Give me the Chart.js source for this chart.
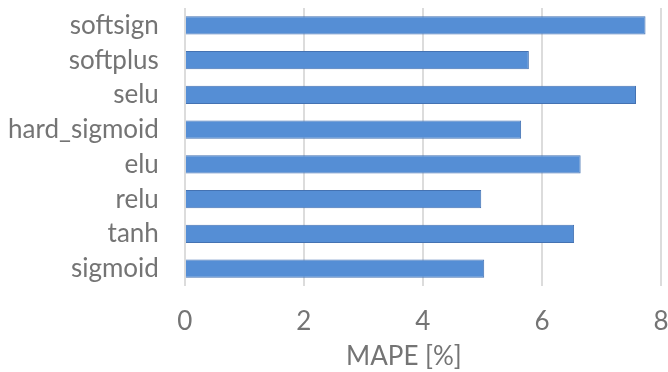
<!DOCTYPE html>
<html>
<head>
<meta charset="utf-8">
<script src="https://cdn.jsdelivr.net/npm/chart.js@4/dist/chart.umd.min.js"></script>
<style>
  html, body { margin: 0; padding: 0; background: #fff; }
  #wrap { width: 668px; height: 372px; }
</style>
</head>
<body>
<div id="wrap"><canvas id="mapeChart"></canvas></div>
<script>
// activation functions, top to bottom
const activations = ['softsign', 'softplus', 'selu', 'hard_sigmoid', 'elu', 'relu', 'tanh', 'sigmoid'];
// mean absolute percentage error per activation
const mapeValues = [7.74, 5.78, 7.58, 5.65, 6.65, 4.98, 6.54, 5.03];
const xMin = 0;
const xMax = 8;
const xStep = 2;
const xTitle = 'MAPE [%]';

const labelFont = { family: 'Lato, "Open Sans", sans-serif', size: 26, lineHeight: 1 };
const grey = '#747474';
const xTickPad = 23;
const yTickPad = 26;
const titleBand = 35;

// Chart.js reserves tick padding on both sides of the labels and at the axis ends;
// keep only the gap between the labels and the plot
function trimX(scale) {
    scale.paddingLeft = 0;
    scale.paddingRight = 0;
    scale.height -= xTickPad;
}
function trimY(scale) {
    scale.paddingTop = 0;
    scale.paddingBottom = 0;
    scale.width -= yTickPad;
}

// axis title sits a little left of the plot centre, in the band kept free below the ticks
const xTitlePlugin = {
    id: 'xTitle',
    afterDraw(chart) {
        const x = chart.scales.x;
        const c = chart.ctx;
        c.save();
        c.font = labelFont.size + 'px ' + labelFont.family;
        c.fillStyle = grey;
        c.textAlign = 'center';
        c.textBaseline = 'middle';
        c.fillText(xTitle, (x.left + x.right) / 2 - 19, chart.height - 2 - labelFont.size / 2);
        c.restore();
    }
};

document.addEventListener('DOMContentLoaded', function () {
    const ctx = document.getElementById('mapeChart').getContext('2d');
    new Chart(ctx, {
        type: 'bar',
        data: {
            labels: activations,
            datasets: [{
                label: 'MAPE',
                data: mapeValues,
                backgroundColor: 'rgb(85, 142, 213)',
                borderColor: 'rgb(68, 114, 178)',
                borderWidth: 1,
                categoryPercentage: 1,
                barPercentage: 0.53
            }]
        },
        options: {
            indexAxis: 'y',
            responsive: true,
            maintainAspectRatio: false,
            animation: false,
            layout: { padding: { top: 8, right: 7, left: 8, bottom: 2 + titleBand } },
            plugins: {
                legend: { display: false },
                tooltip: { enabled: false }
            },
            scales: {
                x: {
                    min: xMin,
                    max: xMax,
                    afterFit: trimX,
                    grid: { color: '#dcdcdc', lineWidth: 2, drawTicks: false },
                    border: { display: false },
                    ticks: { stepSize: xStep, maxRotation: 0, color: grey, font: labelFont, padding: xTickPad }
                },
                y: {
                    afterFit: trimY,
                    grid: { display: false, drawTicks: false },
                    border: { display: false },
                    ticks: { color: grey, font: labelFont, padding: yTickPad }
                }
            }
        },
        plugins: [xTitlePlugin]
    });
});
</script>
</body>
</html>
